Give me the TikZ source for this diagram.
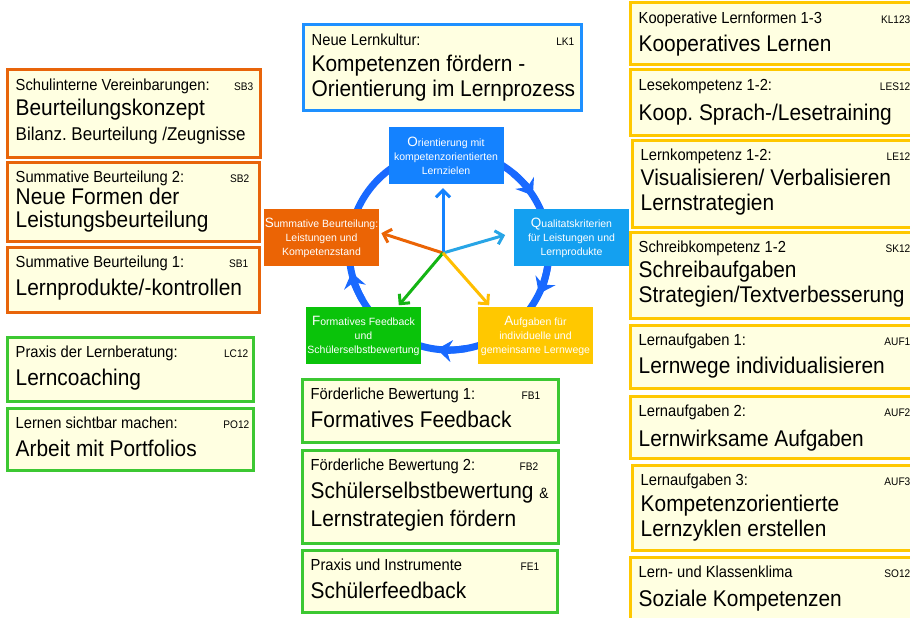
\documentclass[tikz,border=0pt]{standalone}
\usepackage{fontspec}
\setmainfont{Liberation Sans}[FakeStretch=0.92]
\newfontfamily\zyklus{Liberation Sans}
\usetikzlibrary{arrows.meta,fit}

\definecolor{papier}{RGB}{255,255,225}
\definecolor{rahmenOrange}{RGB}{232,100,10}
\definecolor{rahmenGruen}{RGB}{60,200,50}
\definecolor{rahmenGelb}{RGB}{255,200,0}
\definecolor{rahmenBlau}{RGB}{30,144,255}
\definecolor{zykBlau}{RGB}{20,130,255}
\definecolor{zykHellblau}{RGB}{20,160,240}
\definecolor{zykOrange}{RGB}{235,100,5}
\definecolor{zykGruen}{RGB}{10,195,10}
\definecolor{zykGelb}{RGB}{255,200,0}
\definecolor{ringBlau}{RGB}{25,105,255}
\definecolor{pfeilHellblau}{RGB}{40,165,230}
\definecolor{pfeilGruen}{RGB}{20,180,20}
\definecolor{pfeilGelb}{RGB}{255,190,0}

\newcommand{\gross}[1]{{\fontsize{13.5}{14}\selectfont #1}}
% name, farbe, ecke, ecke, kopfzeile, kuerzel, kuerzel-abstand, abstand letzte textzeile, text
\newcommand{\kasten}[9]{%
	\node[kasten, draw=#2, fit={#3 #4}] (#1) {};
	\node[kopf, anchor=base west] (#1-kopf) at ([shift={(10,-22)}]#1.north west) {#5};
	\node[kuerzel, anchor=base east] (#1-code) at ([shift={(-#7,-22)}]#1.north east) {#6};
	\node[rumpf, anchor=base west] (#1-text) at ([shift={(10,-22-#8)}]#1.north west) {#9};
}

\begin{document}
\frenchspacing
\begin{tikzpicture}[x=1pt, y=1pt,
	kasten/.style={rectangle, fill=papier, line width=3pt, inner sep=0pt},
	kopf/.style={font=\fontsize{16}{18}\selectfont, inner sep=0pt},
	kuerzel/.style={font=\fontsize{11}{12}\selectfont, inner sep=0pt},
	rumpf/.style={font=\fontsize{22.7}{25}\selectfont, inner sep=0pt, align=left},
	zyk/.style={rectangle, text=white, font=\zyklus\fontsize{10.5}{14}\selectfont, align=center, minimum width=115pt, minimum height=57pt, inner sep=1pt},
	speiche/.style={line width=3pt, -{Straight Barb[length=7pt,width=14pt]}, shorten >=2pt},
	ring/.style={line width=7pt, draw=ringBlau}]
	\useasboundingbox (0,0) rectangle (910,-618);
	
	%%%%% ZYKLUS %%%%%
	\coordinate (kreis) at (449,-250);
	\coordinate (mitte) at (443,-253);
	\draw[ring] (kreis) circle (100);
	\foreach \von/\bis in {50/33, -9/-26, 280/263, 210/193}
		\draw[ring, -{Stealth[length=15pt,width=22pt,inset=5pt]}] ([shift={(\von:100)}]kreis) arc (\von:\bis:100);
	
	\node[zyk, fill=zykBlau] (oben) at (446,-155.5) {\gross{O}rientierung mit\\kompetenzorientierten\\Lernzielen};
	\node[zyk, fill=zykHellblau] (rechts) at (571.5,-237.5) {\gross{Q}ualitatskriterien\\für Leistungen und\\Lernprodukte};
	\node[zyk, fill=zykOrange] (links) at (321.5,-237.5) {\gross{S}ummative Beurteilung:\\Leistungen und\\Kompetenzstand};
	\node[zyk, fill=zykGruen] (ulinks) at (363.5,-335.5) {\gross{F}ormatives Feedback\\und\\Schülerselbstbewertung};
	\node[zyk, fill=zykGelb] (urechts) at (535.5,-335.5) {\gross{A}ufgaben für\\individuelle und\\gemeinsame Lernwege};
	
	\draw[speiche, draw=zykBlau, shorten >=4pt] (mitte) -- ([xshift=-3pt]oben.south);
	\draw[speiche, draw=zykOrange] (mitte) -- ([yshift=5pt]links.east);
	\draw[speiche, draw=pfeilHellblau, shorten >=9pt] (mitte) -- ([yshift=5pt]rechts.west);
	\draw[speiche, draw=pfeilGruen] (mitte) -- ([xshift=34pt]ulinks.north);
	\draw[speiche, draw=pfeilGelb] (mitte) -- ([xshift=-45pt]urechts.north);
	
	%%%%% LINKS %%%%%
	\kasten{sb3}{rahmenOrange}{(7,-70)}{(260,-157)}{Schulinterne Vereinbarungen:}{SB3}{8}{50}
		{Beurteilungskonzept\\{\fontsize{18.5}{25}\selectfont Bilanz. Beurteilung /Zeugnisse}}
	\kasten{sb2}{rahmenOrange}{(7,-162)}{(259,-241)}{Summative Beurteilung 2:}{SB2}{11}{45}
		{Neue Formen der\\[-2pt]Leistungsbeurteilung}
	\kasten{sb1}{rahmenOrange}{(7,-247)}{(259,-312)}{Summative Beurteilung 1:}{SB1}{12}{28}
		{Lernprodukte/-kontrollen}
	\kasten{lc12}{rahmenGruen}{(7,-337)}{(253,-401)}{Praxis der Lernberatung:}{LC12}{6}{28}
		{Lerncoaching}
	\kasten{po12}{rahmenGruen}{(7,-408)}{(253,-470)}{Lernen sichtbar machen:}{PO12}{5}{28}
		{Arbeit mit Portfolios}
	
	%%%%% MITTE %%%%%
	\kasten{lk1}{rahmenBlau}{(303,-25)}{(581,-110)}{Neue Lernkultur:}{LK1}{8}{51}
		{Kompetenzen fördern -\\Orientierung im Lernprozess}
	\kasten{fb1}{rahmenGruen}{(302,-379)}{(558,-442)}{Förderliche Bewertung 1:}{FB1}{19}{28}
		{Formatives Feedback}
	\kasten{fb2}{rahmenGruen}{(302,-450)}{(558,-543)}{Förderliche Bewertung 2:}{FB2}{21}{56}
		{Schülerselbstbewertung {\fontsize{15}{25}\selectfont\&}\\[3pt]Lernstrategien fördern}
	\kasten{fe1}{rahmenGruen}{(302,-550)}{(557,-612)}{Praxis und Instrumente}{FE1}{19}{28}
		{Schülerfeedback}
	
	%%%%% RECHTS %%%%%
	\kasten{kl123}{rahmenGelb}{(630,-3)}{(918,-65)}{Kooperative Lernformen 1-3}{KL123}{9}{28}
		{Kooperatives Lernen}
	\kasten{les12}{rahmenGelb}{(630,-70)}{(918,-135)}{Lesekompetenz 1-2:}{LES12}{9}{30}
		{Koop. Sprach-/Lesetraining}
	\kasten{le12}{rahmenGelb}{(632,-140)}{(918,-227)}{Lernkompetenz 1-2:}{LE12}{9}{50}
		{Visualisieren/ Verbalisieren\\Lernstrategien}
	\kasten{sk12}{rahmenGelb}{(630,-232)}{(918,-318)}{Schreibkompetenz 1-2}{SK12}{9}{50}
		{Schreibaufgaben\\Strategien/Textverbesserung}
	\kasten{auf1}{rahmenGelb}{(630,-325)}{(918,-388)}{Lernaufgaben 1:}{AUF1}{9}{28}
		{Lernwege individualisieren}
	\kasten{auf2}{rahmenGelb}{(630,-396)}{(918,-458)}{Lernaufgaben 2:}{AUF2}{9}{30}
		{Lernwirksame Aufgaben}
	\kasten{auf3}{rahmenGelb}{(632,-465)}{(918,-550)}{Lernaufgaben 3:}{AUF3}{9}{51}
		{Kompetenzorientierte\\Lernzyklen erstellen}
	\kasten{so12}{rahmenGelb}{(630,-557)}{(918,-625)}{Lern- und Klassenklima}{SO12}{9}{29}
		{Soziale Kompetenzen}
\end{tikzpicture}
\end{document}
